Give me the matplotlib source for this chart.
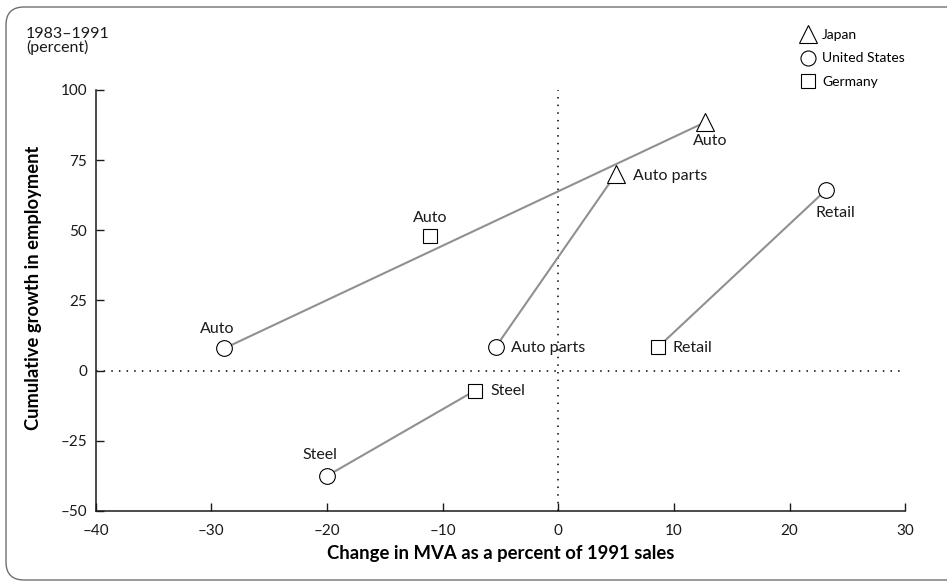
import matplotlib
matplotlib.use("Agg")
import matplotlib.pyplot as plt
import matplotlib.patches as mpatches
from matplotlib.lines import Line2D

plt.rcParams['font.family'] = ['Lato', 'DejaVu Sans']

# change in MVA (% of 1991 sales) and cumulative employment growth 1983-1991
countries = ['Japan', 'United States', 'Germany']

japan_x = [12.7, 5.0]
japan_y = [88.5, 70.2]
japan_lab = ['Auto', 'Auto parts']

us_x = [-28.9, -5.4, 23.1, -20.0]
us_y = [7.9, 8.5, 64.2, -37.5]
us_lab = ['Auto', 'Auto parts', 'Retail', 'Steel']

de_x = [-11.1, 8.6, -7.2]
de_y = [48.0, 8.3, -7.1]
de_lab = ['Auto', 'Retail', 'Steel']

# pairs joined by a grey line: (country, index) -> (country, index)
links = [(('us', 0), ('japan', 0)),
         (('us', 1), ('japan', 1)),
         (('de', 1), ('us', 2)),
         (('us', 3), ('de', 2))]

xticks = [-40, -30, -20, -10, 0, 10, 20, 30]
yticks = [-50, -25, 0, 25, 50, 75, 100]

# label placement (pixel offsets, alignment)
japan_off = [(5, -12, 'center', 'top'), (17, -2, 'left', 'center')]
us_off = [(-7, 15, 'center', 'baseline'), (15, -1, 'left', 'center'),
          (10, -16, 'center', 'top'), (-7, 17, 'center', 'baseline')]
de_off = [(0, 14, 'center', 'baseline'), (15, -1, 'left', 'center'),
          (15, 0, 'left', 'center')]

pts = {'japan': (japan_x, japan_y), 'us': (us_x, us_y), 'de': (de_x, de_y)}

fig = plt.figure(figsize=(9.47, 5.84), dpi=100)
ax = fig.add_axes([0.101, 0.125, 0.855, 0.721])

ax.axhline(0, color='black', lw=1.1, ls=(0, (1, 4)), zorder=1)
ax.axvline(0, color='black', lw=1.1, ls=(0, (1, 4)), zorder=1)

for (c1, i1), (c2, i2) in links:
    ax.plot([pts[c1][0][i1], pts[c2][0][i2]], [pts[c1][1][i1], pts[c2][1][i2]],
            color='#909090', lw=1.5, zorder=2, solid_capstyle='butt')

mk = dict(mfc='white', mec='black', mew=0.8, ls='none', zorder=3)
ax.plot(japan_x, japan_y, marker='^', ms=13, **mk)
ax.plot(us_x, us_y, marker='o', ms=11.3, **mk)
ax.plot(de_x, de_y, marker='s', ms=10.3, **mk)

for xs, ys, labs, offs in [(japan_x, japan_y, japan_lab, japan_off),
                           (us_x, us_y, us_lab, us_off),
                           (de_x, de_y, de_lab, de_off)]:
    for x, y, t, (dx, dy, ha, va) in zip(xs, ys, labs, offs):
        ax.annotate(t, (x, y), xytext=(dx, dy), textcoords='offset pixels',
                    ha=ha, va=va, fontsize=11.5, color='#1a1a1a')

ax.set_xlim(-40, 30)
ax.set_ylim(-50, 100)
ax.set_xticks(xticks)
ax.set_yticks(yticks)
ax.set_xticklabels([f'{v}'.replace('-', '\u2013') for v in xticks])
ax.set_yticklabels([f'{v}'.replace('-', '\u2013') for v in yticks])
ax.tick_params(direction='in', length=5.5, width=1, labelsize=11, colors='#1a1a1a')
ax.tick_params(axis='x', pad=9.5)
ax.tick_params(axis='y', pad=6)
for s in ['top', 'right']:
    ax.spines[s].set_visible(False)
for s in ['left', 'bottom']:
    ax.spines[s].set_linewidth(1.1)
    ax.spines[s].set_color('#1a1a1a')

ax.set_xlabel('Change in MVA as a percent of 1991 sales', fontsize=13.3, fontweight='bold', labelpad=5)
ax.set_ylabel('Cumulative growth in employment', fontsize=13.2, fontweight='bold')
ax.yaxis.set_label_coords(-0.066, 0.53)

fig.text(26 / 947, 1 - 27 / 584, '1983\u20131991\n(percent)', fontsize=11.5, va='top',
         ha='left', linespacing=0.95, color='#1a1a1a')

handles = [Line2D([], [], marker='^', ms=13, **mk),
           Line2D([], [], marker='o', ms=10.8, **mk),
           Line2D([], [], marker='s', ms=9.5, **mk)]
fig.legend(handles, countries, loc='upper left', bbox_to_anchor=(800 / 947, 1 - 29 / 584),
           frameon=False, fontsize=10, handlelength=1.1, handletextpad=0.5,
           labelspacing=0.82, borderpad=0, borderaxespad=0)

box = mpatches.FancyBboxPatch((6, 4), 980, 573, boxstyle='round,pad=0,rounding_size=18',
                              transform=None, fill=False, ec='#707070', lw=1)
fig.add_artist(box)

fig.savefig('out.png', dpi=100)
